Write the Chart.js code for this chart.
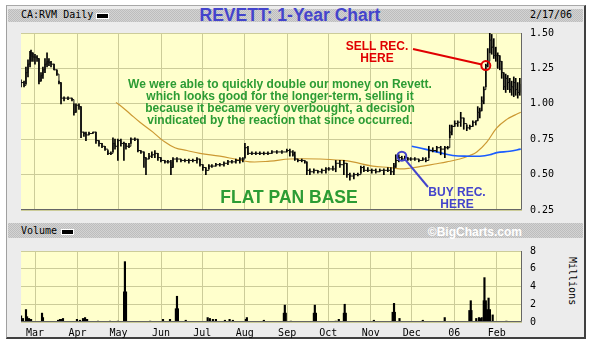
<!DOCTYPE html>
<html>
<head>
<meta charset="utf-8">
<title>Revett 1-Year Chart</title>
<script src="https://cdn.jsdelivr.net/npm/chart.js@4.4.1/dist/chart.umd.min.js"></script>
<style>
  html, body { margin: 0; padding: 0; background: #fff; }
  body { position: relative; width: 592px; height: 349px; overflow: hidden; font-family: "DejaVu Sans Mono", monospace; }
  .abs { position: absolute; }
  #frame { left: 6px; top: 5px; width: 580px; height: 334px; box-sizing: border-box; background: #ececec;
    border-top: 1px solid #a8a8a8; border-left: 1px solid #a0a0a0; border-right: 2px solid #404040; border-bottom: 2px solid #404040; }
  .bar { left: 8px; width: 575px; background-color: #c8c8c8;
    background-image: repeating-conic-gradient(#bdbdbd 0 25%, #d3d3d3 0 50%); background-size: 2px 2px; }
  #bar1 { top: 9px; height: 13px; }
  #bar2 { top: 223px; height: 15px; }
  .small { font-size: 10px; color: #000; line-height: 10px; white-space: nowrap; }
  .key { width: 11px; height: 4px; background: #000; border: 1px solid #fff; }
  #title { left: 160px; width: 260px; top: 5px; text-align: center; font: bold 17.5px "Liberation Sans", Arial, sans-serif; color: #4444cc; line-height: 20px; }
  #copy { left: 400px; width: 122px; top: 225px; text-align: right; font: bold 12px "Liberation Sans", Arial, sans-serif; color: #fff; line-height: 14px; }
  #millions { left: 567px; top: 257px; writing-mode: vertical-rl; }
  canvas { position: absolute; }
</style>
</head>
<body>
<div id="frame" class="abs"></div>
<div id="bar1" class="abs bar"></div>
<div id="bar2" class="abs bar"></div>
<div class="abs small" style="left:21px;top:10px">CA:RVM Daily</div>
<div class="abs key" style="left:96px;top:13px"></div>
<div id="title" class="abs">REVETT: 1-Year Chart</div>
<div class="abs small" style="left:530px;top:10px">2/17/06</div>
<div class="abs small" style="left:21px;top:226px">Volume</div>
<div class="abs key" style="left:61px;top:229px"></div>
<div id="copy" class="abs">©BigCharts.com</div>
<div id="millions" class="abs small">Millions</div>
<canvas id="priceChart" style="left:21px;top:19px" width="560" height="205"></canvas>
<canvas id="volumeChart" style="left:21px;top:237px" width="560" height="101"></canvas>
<script>
// x values are days counted from 2005-03-01
const monthDays = [0, 31, 61, 92, 122, 153, 184, 214, 245, 275, 306, 337];
const monthLabels = ["Mar", "Apr", "May", "Jun", "Jul", "Aug", "Sep", "Oct", "Nov", "Dec", "06", "Feb"];
const xMin = -10.2, xMax = 355.4;

// daily price bars (C$)
const priceDay = [
  -10.2, -8.0, -6.6, -5.1, -3.6, -2.9, -1.5, 0, 1.5, 2.9, 4.4, 5.8, 7.3, 8.8, 10.2, 11.7, 13.9, 16.0, 17.5, 19.0,
  21.2, 24.1, 27.0, 28.4, 29.9, 32.1, 33.6, 35.7, 37.2, 39.4, 42.3, 44.5, 46.7, 48.9, 51.1, 53.2, 55.4, 56.9, 58.4, 60.5,
  62.7, 64.9, 66.4, 68.6, 70.0, 72.9, 75.1, 77.3, 79.5, 81.0, 83.2, 85.3, 87.5, 89.7, 91.9, 94.8, 97.0, 99.2, 100.7, 103.6,
  106.5, 109.4, 112.3, 115.2, 118.2, 120.4, 122.5, 124.7, 126.9, 129.1, 132.0, 134.9, 137.9, 140.8, 143.7, 146.6, 149.5, 151.7, 153.2, 155.4,
  158.3, 161.2, 164.1, 167.0, 170.0, 172.9, 176.5, 180.2, 183.8, 186.0, 188.2, 189.6, 191.8, 194.7, 196.9, 198.4, 200.6, 203.5, 206.4, 209.3,
  212.3, 214.4, 217.4, 219.5, 222.5, 225.4, 227.6, 229.8, 232.7, 235.6, 237.8, 240.0, 242.9, 245.8, 248.7, 251.6, 254.6, 257.5, 259.7, 261.9,
  263.3, 265.5, 267.7, 269.9, 272.1, 274.2, 277.2, 280.1, 283.0, 285.2, 287.4, 290.3, 293.2, 296.1, 299.1, 301.2, 302.7, 304.2, 306.3, 308.5,
  310.7, 312.9, 315.1, 317.3, 319.5, 321.7, 323.1, 324.6, 326.0, 327.5, 329.0, 330.4, 331.9, 333.3, 334.8, 336.3, 337.7, 339.2, 340.6, 342.1,
  343.5, 345.0, 346.5, 347.9, 349.4, 350.8, 352.3, 353.8
];
const priceLow = [
  1.12, 1.12, 1.14, 1.19, 1.26, 1.30, 1.30, 1.28, 1.30, 1.14, 1.16, 1.18, 1.22, 1.26, 1.27, 1.26, 1.24, 1.20, 1.14, 1.00,
  1.02, 1.03, 1.02, 0.92, 0.94, 0.96, 0.76, 0.77, 0.74, 0.78, 0.79, 0.72, 0.70, 0.69, 0.67, 0.64, 0.64, 0.66, 0.68, 0.60,
  0.70, 0.60, 0.68, 0.69, 0.72, 0.74, 0.66, 0.65, 0.55, 0.50, 0.61, 0.62, 0.62, 0.60, 0.59, 0.58, 0.58, 0.50, 0.55, 0.59,
  0.59, 0.59, 0.58, 0.59, 0.58, 0.56, 0.53, 0.50, 0.54, 0.55, 0.56, 0.56, 0.56, 0.57, 0.58, 0.58, 0.58, 0.59, 0.62, 0.64,
  0.64, 0.64, 0.64, 0.64, 0.64, 0.65, 0.65, 0.65, 0.66, 0.63, 0.63, 0.60, 0.59, 0.59, 0.58, 0.50, 0.50, 0.51, 0.51, 0.51,
  0.51, 0.53, 0.53, 0.52, 0.55, 0.50, 0.48, 0.46, 0.47, 0.49, 0.51, 0.52, 0.52, 0.51, 0.51, 0.52, 0.50, 0.52, 0.50, 0.50,
  0.55, 0.59, 0.60, 0.60, 0.60, 0.60, 0.60, 0.59, 0.60, 0.59, 0.62, 0.66, 0.66, 0.64, 0.62, 0.68, 0.76, 0.78, 0.84, 0.84,
  0.84, 0.82, 0.81, 0.82, 0.84, 0.85, 0.88, 0.90, 0.95, 1.00, 1.12, 1.26, 1.36, 1.35, 1.32, 1.30, 1.25, 1.24, 1.18, 1.10,
  1.08, 1.10, 1.08, 1.06, 1.05, 1.06, 1.04, 1.06
];
const priceHigh = [
  1.17, 1.16, 1.26, 1.31, 1.37, 1.38, 1.36, 1.35, 1.34, 1.32, 1.22, 1.26, 1.32, 1.36, 1.32, 1.30, 1.28, 1.24, 1.16, 1.15,
  1.05, 1.05, 1.04, 1.00, 1.00, 1.00, 0.98, 0.80, 0.80, 0.80, 0.80, 0.80, 0.74, 0.72, 0.70, 0.67, 0.66, 0.76, 0.75, 0.75,
  0.75, 0.73, 0.72, 0.72, 0.76, 0.76, 0.75, 0.67, 0.66, 0.62, 0.65, 0.66, 0.67, 0.65, 0.62, 0.60, 0.60, 0.60, 0.62, 0.62,
  0.61, 0.61, 0.61, 0.61, 0.62, 0.61, 0.57, 0.55, 0.57, 0.57, 0.58, 0.58, 0.59, 0.60, 0.60, 0.61, 0.62, 0.62, 0.72, 0.70,
  0.66, 0.66, 0.66, 0.66, 0.66, 0.67, 0.67, 0.67, 0.68, 0.68, 0.67, 0.66, 0.61, 0.61, 0.60, 0.59, 0.54, 0.54, 0.53, 0.54,
  0.55, 0.55, 0.56, 0.60, 0.60, 0.60, 0.58, 0.51, 0.51, 0.51, 0.56, 0.56, 0.55, 0.54, 0.54, 0.54, 0.54, 0.55, 0.55, 0.58,
  0.64, 0.64, 0.63, 0.63, 0.62, 0.62, 0.62, 0.61, 0.62, 0.62, 0.70, 0.69, 0.70, 0.70, 0.70, 0.70, 0.85, 0.85, 0.88, 0.88,
  0.94, 0.90, 0.85, 0.85, 0.88, 0.88, 0.98, 0.97, 1.05, 1.12, 1.28, 1.39, 1.50, 1.49, 1.46, 1.40, 1.36, 1.34, 1.30, 1.22,
  1.21, 1.20, 1.18, 1.16, 1.19, 1.18, 1.15, 1.18
];
const priceClose = [
  1.15, 1.13, 1.22, 1.28, 1.33, 1.36, 1.33, 1.33, 1.32, 1.16, 1.20, 1.24, 1.28, 1.30, 1.29, 1.28, 1.24, 1.21, 1.15, 1.04,
  1.04, 1.04, 1.03, 0.94, 0.99, 0.98, 0.80, 0.79, 0.78, 0.79, 0.80, 0.74, 0.72, 0.70, 0.68, 0.65, 0.65, 0.72, 0.70, 0.74,
  0.72, 0.72, 0.70, 0.70, 0.75, 0.75, 0.67, 0.66, 0.62, 0.61, 0.63, 0.64, 0.65, 0.62, 0.60, 0.59, 0.59, 0.55, 0.61, 0.61,
  0.60, 0.60, 0.60, 0.60, 0.61, 0.57, 0.55, 0.53, 0.56, 0.56, 0.57, 0.57, 0.58, 0.59, 0.59, 0.60, 0.61, 0.61, 0.69, 0.65,
  0.65, 0.65, 0.65, 0.65, 0.65, 0.66, 0.66, 0.66, 0.67, 0.66, 0.64, 0.61, 0.60, 0.60, 0.59, 0.53, 0.52, 0.53, 0.52, 0.53,
  0.54, 0.54, 0.54, 0.58, 0.57, 0.58, 0.50, 0.49, 0.50, 0.50, 0.55, 0.53, 0.53, 0.53, 0.52, 0.53, 0.53, 0.53, 0.52, 0.56,
  0.60, 0.62, 0.61, 0.62, 0.61, 0.61, 0.61, 0.60, 0.61, 0.60, 0.67, 0.67, 0.69, 0.68, 0.69, 0.69, 0.80, 0.84, 0.86, 0.87,
  0.90, 0.86, 0.83, 0.84, 0.87, 0.88, 0.94, 0.95, 1.02, 1.10, 1.27, 1.30, 1.45, 1.40, 1.34, 1.34, 1.34, 1.30, 1.22, 1.12,
  1.18, 1.15, 1.10, 1.12, 1.15, 1.10, 1.08, 1.14
];

// 50-day moving average (orange)
const ma50Day = [59.1, 62.0, 69.3, 76.6, 86.1, 93.4, 102.1, 110.9, 120.4, 134.9, 145.9, 156.8, 171.4, 186.0, 207.9, 224.7,
  231.9, 246.5, 258.9, 266.2, 273.5, 283.0, 291.8, 300.5, 310.0, 317.3, 322.4, 329.7, 337.0, 344.3, 350.1, 354.5];
const ma50 = [1.01, 0.99, 0.93, 0.87, 0.80, 0.74, 0.69, 0.67, 0.65, 0.63, 0.61, 0.59, 0.595, 0.61, 0.61, 0.60,
  0.59, 0.56, 0.55, 0.54, 0.545, 0.56, 0.575, 0.59, 0.61, 0.635, 0.66, 0.73, 0.83, 0.89, 0.92, 0.94];

// 200-day moving average (blue)
const ma200Day = [275.0, 284.5, 295.4, 304.9, 317.3, 324.6, 331.9, 337.0, 346.5, 354.5];
const ma200 = [0.70, 0.68, 0.655, 0.635, 0.63, 0.63, 0.64, 0.655, 0.665, 0.68];

// volume, millions of shares
const volDay = [
  -10.2, -8.8, -6.6, -5.8, -4.4, -2.9, 5.1, 5.8, 16.8, 18.2, 19.7, 20.4, 30.6, 32.8, 35.0, 36.5, 38.0, 46.0, 54.7, 60.5,
  65.0, 65.6, 66.4, 84.0, 93.4, 98.5, 102.8, 103.6, 104.3, 110.0, 126.0, 127.6, 129.8, 132.0, 138.6, 142.0, 144.4, 153.9, 154.6, 167.0,
  181.6, 182.3, 183.0, 186.7, 203.5, 204.2, 205.0, 219.5, 221.7, 225.4, 226.0, 226.8, 247.3, 261.0, 262.0, 262.6, 266.0, 283.0, 299.0, 317.0,
  318.0, 318.5, 322.0, 324.0, 325.0, 326.0, 327.5, 328.0, 329.0, 330.0, 331.0, 332.0, 334.0, 344.0
];
const volMillions = [
  0.7, 0.4, 1.4, 0.6, 0.4, 0.3, 1.0, 0.5, 0.2, 0.3, 0.3, 0.4, 0.3, 0.2, 0.4, 0.5, 0.3, 0.1, 0.1, 0.1,
  3.4, 6.8, 3.4, 0.1, 0.3, 0.3, 1.5, 2.9, 1.5, 0.2, 0.5, 0.4, 0.3, 0.3, 0.2, 0.3, 0.2, 0.3, 0.5, 0.2,
  1.0, 1.9, 1.0, 0.1, 1.0, 1.9, 1.0, 0.1, 0.3, 1.0, 2.0, 1.0, 0.2, 1.1, 2.1, 1.1, 0.4, 0.2, 0.5, 1.3,
  2.4, 1.3, 0.4, 0.5, 0.4, 0.5, 2.4, 5.0, 2.4, 1.4, 2.7, 1.4, 0.8, 0.1
];

const buyPoint = { day: 267.7, price: 0.63 };
const sellPoint = { day: 329.0, price: 1.27 };
const commentLines = [
  "We were able to quickly double our money on Revett.",
  "which looks good for the longer-term, selling it",
  "because it became very overbought, a decision",
  "vindicated by the reaction that since occurred."
];

Chart.defaults.font.family = '"DejaVu Sans Mono", monospace';
Chart.defaults.font.size = 10;
Chart.defaults.color = "#000";

const gridColor = "#cccc99";
const sansBold = (px) => "bold " + px + 'px "Liberation Sans", Arial, sans-serif';

const plotFrame = {
  id: "plotFrame",
  beforeDraw(chart) {
    const { ctx, chartArea: a } = chart;
    ctx.save();
    ctx.fillStyle = "#ffffcc";
    ctx.fillRect(a.left, a.top, a.width, a.height);
    ctx.restore();
  },
  afterDraw(chart) {
    const { ctx, chartArea: a } = chart;
    ctx.save();
    ctx.strokeStyle = "#666";
    ctx.lineWidth = 1;
    ctx.beginPath();
    ctx.moveTo(a.left, a.bottom - 0.5);
    ctx.lineTo(a.right - 0.5, a.bottom - 0.5);
    ctx.lineTo(a.right - 0.5, a.top);
    ctx.stroke();
    ctx.restore();
  }
};

const notes = {
  id: "notes",
  afterDatasetsDraw(chart) {
    const { ctx, scales: { x, y } } = chart;
    ctx.save();
    ctx.textAlign = "center";
    ctx.textBaseline = "middle";

    ctx.fillStyle = "#2c9c34";
    ctx.font = sansBold(12);
    commentLines.forEach((t, i) => ctx.fillText(t, 259, 66 + i * 11.8));
    ctx.font = sansBold(17.5);
    ctx.fillText("FLAT PAN BASE", 268, 179);

    // sell call
    const sx = x.getPixelForValue(sellPoint.day);
    const sy = y.getPixelForValue(sellPoint.price);
    ctx.fillStyle = ctx.strokeStyle = "#e00000";
    ctx.font = sansBold(12);
    ctx.fillText("SELL REC.", 356, 28);
    ctx.fillText("HERE", 356, 40);
    ctx.lineWidth = 2;
    ctx.beginPath();
    ctx.moveTo(392, 30);
    ctx.lineTo(sx - 4, sy - 1);
    ctx.stroke();
    ctx.beginPath();
    ctx.arc(sx, sy, 4.5, 0, Math.PI * 2);
    ctx.stroke();

    // buy call
    const bx = x.getPixelForValue(buyPoint.day);
    const by = y.getPixelForValue(buyPoint.price);
    ctx.fillStyle = ctx.strokeStyle = "#4444cc";
    ctx.fillText("BUY REC.", 436, 174);
    ctx.fillText("HERE", 436, 186);
    ctx.beginPath();
    ctx.moveTo(bx + 3, by + 3);
    ctx.lineTo(407, 168);
    ctx.stroke();
    ctx.beginPath();
    ctx.arc(bx, by, 4.5, 0, Math.PI * 2);
    ctx.stroke();
    ctx.restore();
  }
};

const xScale = (showLabels) => ({
  type: "linear",
  min: xMin,
  max: xMax,
  offset: false,
  afterBuildTicks: (s) => { s.ticks = monthDays.map((v) => ({ value: v })); },
  afterFit: (s) => { s.height = showLabels ? 16 : 0; },
  ticks: {
    display: showLabels,
    autoSkip: false,
    maxRotation: 0,
    padding: 5,
    callback: (v, i) => monthLabels[i]
  },
  grid: { color: gridColor, drawTicks: false, offset: false },
  border: { display: false }
});

new Chart(document.getElementById("priceChart"), {
  type: "line",
  data: {
    datasets: [
      {
        type: "line",
        data: ma50Day.map((d, i) => ({ x: d, y: ma50[i] })),
        borderColor: "#cc9933",
        borderWidth: 1.2,
        pointRadius: 0,
        tension: 0.4,
        order: 4
      },
      {
        type: "line",
        data: ma200Day.map((d, i) => ({ x: d, y: ma200[i] })),
        borderColor: "#1a5cff",
        borderWidth: 1.6,
        pointRadius: 0,
        tension: 0.4,
        order: 3
      },
      {
        type: "bar",
        data: priceDay.map((d, i) => ({ x: d, y: [priceLow[i], priceHigh[i]] })),
        backgroundColor: "#000",
        barThickness: 1,
        order: 2
      },
      {
        type: "line",
        data: priceDay.map((d, i) => ({ x: d, y: priceClose[i] })),
        stepped: true,
        borderColor: "#111",
        borderWidth: 1,
        pointRadius: 0,
        order: 1
      }
    ]
  },
  options: {
    responsive: false,
    animation: false,
    layout: { padding: { top: 10, bottom: 10, left: 0, right: 0 } },
    plugins: { legend: { display: false }, tooltip: { enabled: false } },
    scales: {
      x: xScale(false),
      y: {
        position: "right",
        min: 0.25,
        max: 1.5,
        afterFit: (s) => { s.width = 59; },
        ticks: { stepSize: 0.25, padding: 8, callback: (v) => v.toFixed(2) },
        grid: { color: gridColor, drawTicks: false },
        border: { display: false }
      }
    }
  },
  plugins: [plotFrame, notes]
});

new Chart(document.getElementById("volumeChart"), {
  type: "bar",
  data: {
    datasets: [
      {
        data: volDay.map((d, i) => ({ x: d, y: volMillions[i] })),
        backgroundColor: "#000",
        barThickness: 1.5
      }
    ]
  },
  options: {
    responsive: false,
    animation: false,
    layout: { padding: { top: 8, bottom: 0, left: 0, right: 0 } },
    plugins: { legend: { display: false }, tooltip: { enabled: false } },
    scales: {
      x: xScale(true),
      y: {
        position: "right",
        min: 0,
        max: 8,
        afterFit: (s) => { s.width = 59; },
        ticks: { stepSize: 2, padding: 8 },
        grid: { color: gridColor, drawTicks: false },
        border: { display: false }
      }
    }
  },
  plugins: [plotFrame]
});
</script>
</body>
</html>
